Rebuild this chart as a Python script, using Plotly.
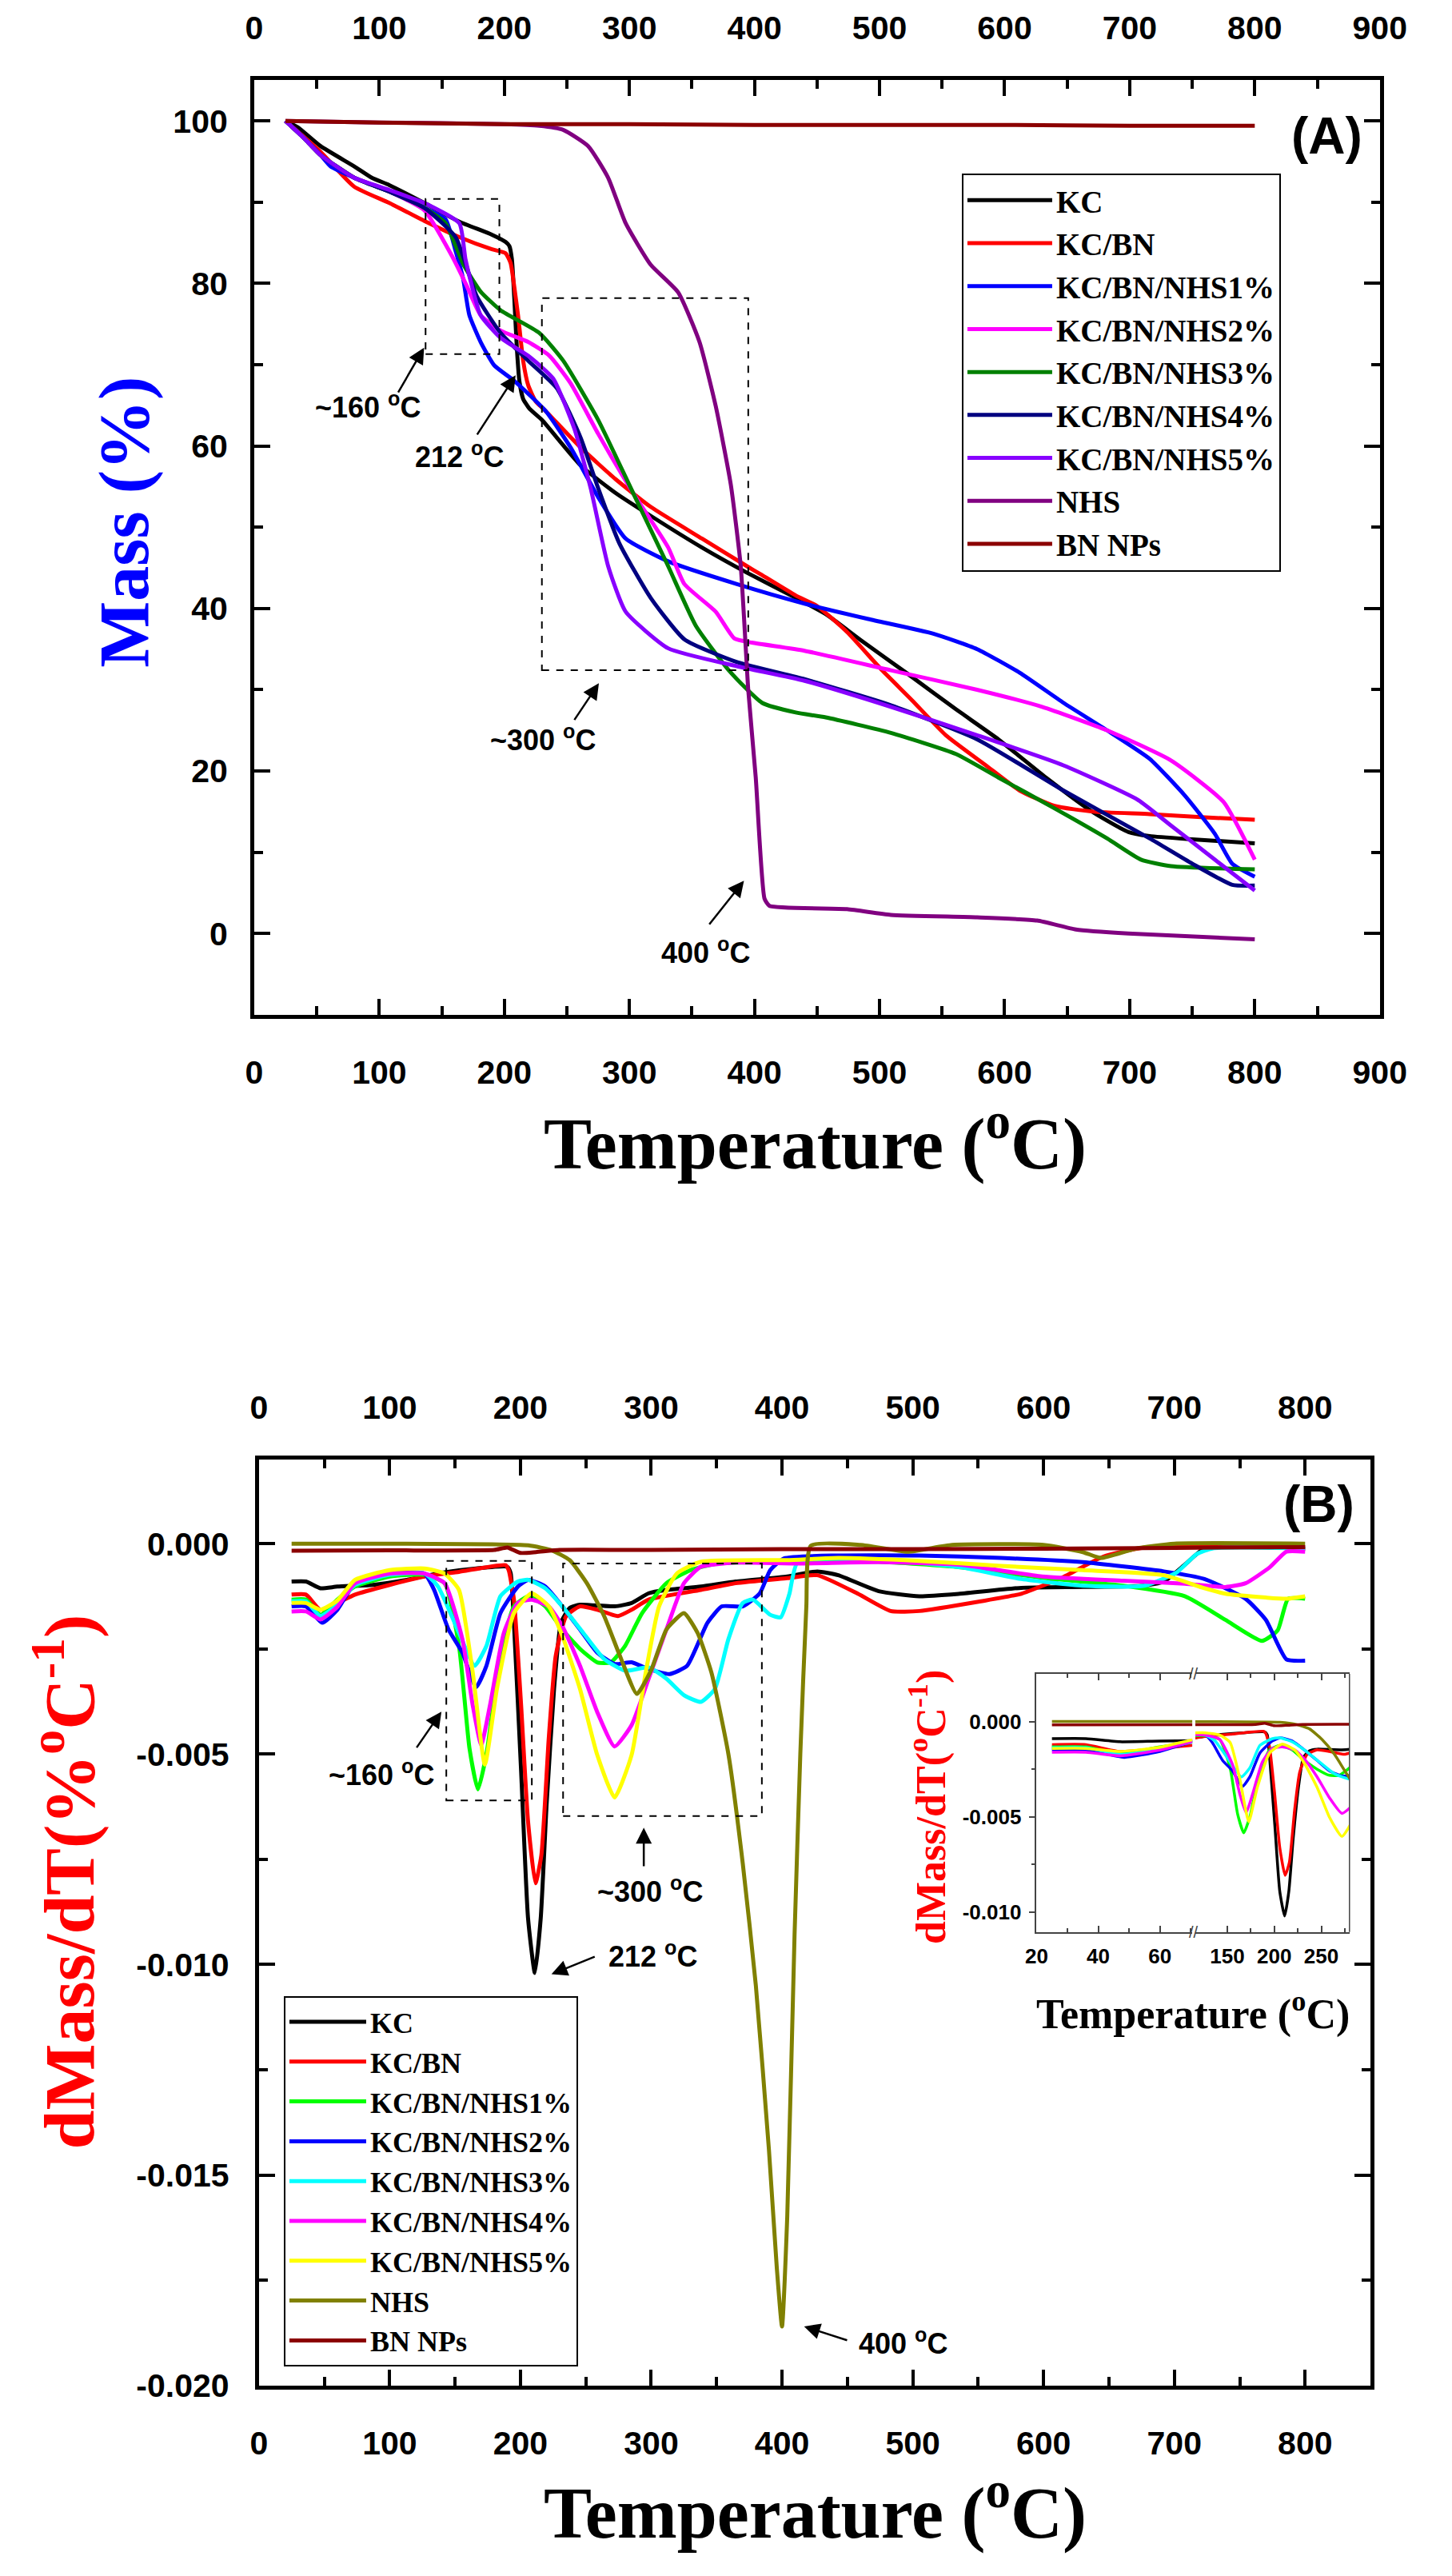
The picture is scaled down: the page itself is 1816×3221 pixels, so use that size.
import plotly.graph_objects as go

W, H = 1816, 3221

# ------------------------------------------------------------------
# DATA  -- panel (A): TGA mass (%) vs temperature (°C)
# ------------------------------------------------------------------
names = ["KC", "KC/BN", "KC/BN/NHS1%", "KC/BN/NHS2%", "KC/BN/NHS3%",
         "KC/BN/NHS4%", "KC/BN/NHS5%", "NHS", "BN NPs"]
colors_a = ["#000000", "#FF0000", "#0000FF", "#FF00FF", "#008000",
            "#000080", "#8800FF", "#800080", "#8B0000"]
colors_b = ["#000000", "#FF0000", "#00FF00", "#0000FF", "#00FFFF",
            "#FF00FF", "#FFFF00", "#808000", "#8B0000"]

a_kc_t = [25, 35, 53, 80, 94, 108, 136, 164, 190, 201, 204, 206, 208, 210, 212, 215, 220, 230,
          261, 289, 317, 358, 394, 433, 457, 485, 523, 561, 595, 633, 671, 699, 716, 750, 800]
a_kc_m = [100, 99.2, 96.9, 94.4, 93, 92.1, 89.9, 87.6, 86, 85.1, 84.6, 83, 78, 72, 68, 65.8, 64.6, 63.2,
          57.6, 54.2, 51.4, 47.5, 44.4, 41.3, 39.3, 36.1, 31.9, 27.6, 23.9, 19.2, 14.9, 12.5, 12.0, 11.6, 11.1]

a_kcbn_t = [25, 53, 80, 108, 136, 164, 190, 201, 205, 208, 211, 215, 219, 225, 233, 261, 289, 317,
            358, 394, 405, 433, 450, 474, 502, 526, 553, 585, 612, 640, 671, 716, 760, 800]
a_kcbn_m = [100, 96.2, 91.9, 89.9, 87.7, 85.7, 84.2, 83.7, 82.5, 79.5, 76, 70.5, 67.5, 65.5, 64.3, 59.8, 55.9, 52.5,
            48.6, 45.2, 44.2, 41.6, 40.3, 37.1, 32.4, 28.7, 24.4, 20.7, 17.6, 15.7, 15.0, 14.7, 14.3, 14.0]

a_n1_t = [25, 39, 53, 61, 80, 108, 136, 153, 161, 167, 172, 181, 192, 208, 233, 253, 275, 297, 331,
          386, 440, 491, 543, 578, 612, 647, 682, 716, 744, 768, 782, 800]
a_n1_m = [100, 98, 95.8, 94.4, 93, 91.3, 89.3, 87.9, 84, 80.6, 76.1, 72.8, 69.9, 68, 64.3, 59.8, 53.7, 48.6, 45.8,
          43, 40.6, 38.7, 36.9, 35, 32.1, 28.4, 25, 21.5, 17, 12.3, 8.6, 7]

a_n2_t = [25, 39, 53, 80, 108, 136, 158, 169, 181, 197, 219, 236, 253, 275, 303, 331, 344, 369,
          384, 398, 440, 509, 578, 630, 682, 733, 775, 800]
a_n2_m = [100, 98, 95.8, 93, 91.3, 89.0, 83.4, 80, 76.1, 74.2, 72.8, 71.1, 67.7, 61.5, 54.2, 47.5, 43, 39.6,
          36.3, 35.8, 34.8, 32.4, 30, 27.9, 25, 21.3, 16.2, 9.1]

a_n3_t = [25, 39, 53, 80, 108, 136, 153, 167, 181, 197, 228, 247, 275, 303, 331, 353, 380, 406,
          433, 457, 509, 561, 595, 640, 682, 709, 733, 800]
a_n3_m = [100, 98, 95.8, 93, 91.3, 89.3, 87.4, 82.4, 79, 76.7, 73.9, 70.5, 63.2, 54.2, 45.2, 37.9, 32.3, 28.4,
          27.2, 26.6, 24.7, 22.1, 19.2, 15.4, 11.7, 9.1, 8.3, 7.9]

a_n4_t = [25, 39, 53, 80, 108, 136, 161, 178, 197, 219, 242, 261, 275, 292, 317, 344, 386, 440,
          509, 578, 647, 716, 750, 782, 800]
a_n4_m = [100, 98, 95.8, 93, 91.3, 89.3, 85.7, 78.4, 73.9, 70.5, 67.1, 61, 54.8, 48, 41.3, 36.2, 33.4, 31.3,
          28.1, 23.9, 17.6, 11.7, 8.6, 6.0, 5.9]

a_n5_t = [25, 39, 53, 80, 108, 136, 164, 169, 181, 197, 219, 239, 256, 269, 283, 297, 331, 386,
          440, 509, 578, 647, 706, 733, 768, 800]
a_n5_m = [100, 98, 95.8, 93, 91.5, 89.9, 87.4, 82.9, 76.1, 73.3, 71.1, 68.3, 62.1, 54.8, 45.2, 39.6, 35.1, 32.9,
          31.1, 27.9, 24.4, 20.7, 16.5, 13.3, 9.1, 5.3]

a_nhs_t = [25, 100, 200, 228, 247, 267, 283, 297, 317, 339, 356, 369, 381, 389, 395, 401, 408, 412,
           474, 509, 578, 626, 657, 699, 800]
a_nhs_m = [100, 99.8, 99.6, 99.4, 98.9, 96.9, 93, 87.4, 82.3, 78.9, 72.8, 64.9, 55.3, 45.2, 30, 19.2, 4.3, 3.4,
           3.0, 2.3, 2.0, 1.6, 0.5, 0, -0.7]

a_bn_t = [25, 100, 200, 300, 400, 500, 600, 700, 800]
a_bn_m = [100, 99.8, 99.6, 99.6, 99.5, 99.5, 99.5, 99.4, 99.4]

# ------------------------------------------------------------------
# DATA  -- panel (B): DTG dMass/dT vs temperature (°C)
# ------------------------------------------------------------------
b_kc_t = [25, 36, 47, 60, 87, 113, 140, 166, 190, 192.5, 195, 200.5, 205.8, 211, 215.5, 220, 225.7, 231,
          237.6, 245.5, 272, 285, 298, 311.6, 338, 364.6, 404, 427, 443, 474, 505, 536, 583, 630, 677,
          692, 708, 723, 800]
b_kc_v = [-0.00090, -0.00090, -0.00106, -0.00102, -0.00098, -0.00086, -0.00069, -0.00059, -0.00055, -0.00070,
          -0.00188, -0.00540, -0.00890, -0.01020, -0.00890, -0.00620, -0.00345, -0.00188,
          -0.00153, -0.00145, -0.00149, -0.00141, -0.00118, -0.00110, -0.00102, -0.00090, -0.00078, -0.00066,
          -0.00075, -0.00113, -0.00125, -0.00119, -0.00105, -0.00103, -0.00100, -0.00090, -0.00050, -0.00012,
          -0.00012]

b_kcbn_t = [25, 36, 47, 60, 73.5, 100, 126.5, 153, 188.6, 191, 195, 200.5, 205.8, 211.5, 216, 221.7, 227,
            235, 245.5, 258.7, 274.6, 285, 298, 338, 364.6, 404, 427, 458, 483, 505, 552, 583, 614, 645.5,
            677, 800]
b_kcbn_v = [-0.00121, -0.00121, -0.00157, -0.00141, -0.00121, -0.00098, -0.00078, -0.00067, -0.00051, -0.00063,
            -0.00133, -0.00384, -0.00660, -0.00807, -0.00740, -0.00460, -0.00266, -0.00172, -0.00149, -0.00157,
            -0.00172, -0.00157, -0.00133, -0.00110, -0.00094, -0.00082, -0.00075, -0.00119, -0.00160, -0.00160,
            -0.00137, -0.00119, -0.00081, -0.00031, -0.00009, -0.00009]

b_n1_t = [25, 36, 47, 60, 73.5, 100, 126.5, 142, 153, 161, 167.5, 174, 184.7, 195, 206, 219, 232, 245.5,
          258.7, 269, 280, 293, 311.6, 330, 351, 404, 474, 536, 599, 661, 708, 739, 767, 779, 787, 800]
b_n1_v = [-0.00133, -0.00133, -0.00169, -0.00133, -0.00102, -0.00078, -0.00074, -0.00094, -0.00243, -0.00486,
          -0.00584, -0.00500, -0.00266, -0.00149, -0.00125, -0.00149, -0.00204, -0.00250, -0.00282, -0.00282,
          -0.00243, -0.00165, -0.00094, -0.00063, -0.00047, -0.00043, -0.00043, -0.00056, -0.00081, -0.00100,
          -0.00125, -0.00181, -0.00231, -0.00206, -0.00131, -0.00131]

b_n2_t = [25, 36, 48.4, 60, 73.5, 100, 126.5, 134, 145, 155.6, 166, 174, 184.7, 198, 206, 219, 232, 245.5,
          258.7, 272, 285, 298, 314, 327.5, 343, 354, 370, 383, 391, 401.6, 443, 505, 567.6, 630, 692, 723,
          754.5, 770, 785.7, 800]
b_n2_v = [-0.00149, -0.00149, -0.00188, -0.00157, -0.00094, -0.00071, -0.00071, -0.00110, -0.00204, -0.00259,
          -0.00341, -0.00290, -0.00165, -0.00102, -0.00086, -0.00102, -0.00149, -0.00204, -0.00259, -0.00286,
          -0.00282, -0.00298, -0.00310, -0.00290, -0.00188, -0.00149, -0.00149, -0.00118, -0.00063, -0.00035,
          -0.00028, -0.00028, -0.00034, -0.00044, -0.00066, -0.00084, -0.00131, -0.00181, -0.00275, -0.00278]

b_n3_t = [25, 36, 47, 60, 73.5, 100, 126.5, 137, 153, 165, 174, 184.7, 198, 206, 219, 232, 248, 264, 280,
          298, 311.6, 325, 338, 348.7, 359, 370, 377.8, 391, 399, 405.6, 412, 474, 536, 583, 630, 677,
          701.6, 717, 729.6, 800]
b_n3_v = [-0.00137, -0.00137, -0.00172, -0.00145, -0.00098, -0.00074, -0.00071, -0.00102, -0.00212, -0.00290,
          -0.00243, -0.00125, -0.00090, -0.00086, -0.00106, -0.00149, -0.00212, -0.00274, -0.00302, -0.00294,
          -0.00321, -0.00360, -0.00376, -0.00345, -0.00227, -0.00141, -0.00133, -0.00169, -0.00175, -0.00120,
          -0.00044, -0.00038, -0.00056, -0.00084, -0.00100, -0.00100, -0.00069, -0.00025, -0.00011, -0.00011]

b_n4_t = [25, 36, 47, 60, 73.5, 100, 126.5, 142, 155.6, 163.5, 170, 176.7, 187.3, 198, 208.5, 221.7, 232,
          245.5, 258.7, 272, 285, 298, 311.6, 325, 338, 364.6, 412, 474, 536, 599, 661, 708, 739, 754.5,
          773, 785.7, 800]
b_n4_v = [-0.00161, -0.00161, -0.00180, -0.00150, -0.00094, -0.00071, -0.00071, -0.00094, -0.00227, -0.00384,
          -0.00478, -0.00384, -0.00212, -0.00141, -0.00133, -0.00149, -0.00196, -0.00290, -0.00400, -0.00482,
          -0.00431, -0.00321, -0.00204, -0.00094, -0.00055, -0.00045, -0.00047, -0.00044, -0.00050, -0.00078,
          -0.00088, -0.00095, -0.00103, -0.00094, -0.00056, -0.00019, -0.00019]

b_n5_t = [25, 36, 47, 60, 73.5, 100, 126.5, 142, 153, 163.5, 172.8, 182, 195, 208.5, 221.7, 232, 245.5,
          258.7, 272, 285, 295.8, 306, 319.6, 338, 404, 443, 505, 567.6, 630, 692, 723, 739, 770, 785.7, 800]
b_n5_v = [-0.00141, -0.00141, -0.00157, -0.00135, -0.00086, -0.00063, -0.00059, -0.00071, -0.00110, -0.00306,
          -0.00525, -0.00345, -0.00165, -0.00118, -0.00149, -0.00219, -0.00345, -0.00502, -0.00603, -0.00502,
          -0.00306, -0.00149, -0.00071, -0.00043, -0.00039, -0.00034, -0.00041, -0.00053, -0.00063, -0.00075,
          -0.00106, -0.00119, -0.00128, -0.00131, -0.00125]

b_nhs_t = [25, 100, 206, 224, 237.6, 250.8, 264, 277, 289, 300, 311.6, 325, 335.4, 346, 359, 370, 380,
           390, 396, 400, 404, 409.6, 414, 418.6, 422, 460, 496, 530, 600, 630, 644, 670, 700, 800]
b_nhs_v = [0.0, 0.0, -0.00004, -0.00016, -0.00039, -0.00094, -0.00172, -0.00274, -0.00357, -0.00300, -0.00204,
           -0.00165, -0.00212, -0.00306, -0.00500, -0.00760, -0.01050, -0.01440, -0.01720, -0.01860, -0.01600,
           -0.00930, -0.00500, -0.00150, -0.00005, -0.00003, -0.00019, -0.00003, -0.00003, -0.00020, -0.00034,
           -0.00012, 0.0, 0.0]

b_bn_t = [25, 100, 180, 190, 200, 212, 230, 300, 400, 500, 600, 700, 800]
b_bn_v = [-0.00017, -0.00016, -0.00015, -0.00009, -0.00022, -0.00020, -0.00015, -0.00015, -0.00013, -0.00013,
          -0.00012, -0.00010, -0.00008]

a_series = [(a_kc_t, a_kc_m), (a_kcbn_t, a_kcbn_m), (a_n1_t, a_n1_m), (a_n2_t, a_n2_m), (a_n3_t, a_n3_m),
            (a_n4_t, a_n4_m), (a_n5_t, a_n5_m), (a_nhs_t, a_nhs_m), (a_bn_t, a_bn_m)]
b_series = [(b_kc_t, b_kc_v), (b_kcbn_t, b_kcbn_v), (b_n1_t, b_n1_v), (b_n2_t, b_n2_v), (b_n3_t, b_n3_v),
            (b_n4_t, b_n4_v), (b_n5_t, b_n5_v), (b_nhs_t, b_nhs_v), (b_bn_t, b_bn_v)]

# tick labels
a_x_ticks = [0, 100, 200, 300, 400, 500, 600, 700, 800, 900]
a_y_ticks = [0, 20, 40, 60, 80, 100]
b_x_ticks = [0, 100, 200, 300, 400, 500, 600, 700, 800]
b_y_ticks = [0.0, -0.005, -0.010, -0.015, -0.020]
b_y_text = ["0.000", "-0.005", "-0.010", "-0.015", "-0.020"]
b_y_minor = [-0.0025, -0.0075, -0.0125, -0.0175]
in_x1_ticks = [20, 40, 60]
in_x1_minor = [30, 50, 70]
in_x2_ticks = [150, 200, 250]
in_x2_minor = [175, 225, 275]
in_y_ticks = [0.0, -0.005, -0.010]
in_y_text = ["0.000", "-0.005", "-0.010"]
in_y_minor = [-0.0025, -0.0075]


# ------------------------------------------------------------------
def px(x):
    return x / W


def py(y):
    return 1 - y / H


SANS = "Liberation Sans"
SERIF = "Liberation Serif"
TICKFONT = dict(family=SANS, size=41, color="black", weight="bold")
LW = 5
SMOOTH = 0.5

fig = go.Figure()

# panel A traces
for i, (t, m) in enumerate(a_series):
    fig.add_trace(go.Scatter(
        x=t, y=m, name=names[i], mode="lines",
        line=dict(color=colors_a[i], width=LW, shape="spline", smoothing=SMOOTH),
        xaxis="x2" if i == len(a_series) - 1 else "x", yaxis="y", legend="legend"))

# panel B traces
for i, (t, v) in enumerate(b_series):
    fig.add_trace(go.Scatter(
        x=t, y=v, name=names[i], mode="lines",
        line=dict(color=colors_b[i], width=LW, shape="spline", smoothing=SMOOTH),
        xaxis="x4" if i == len(b_series) - 1 else "x3", yaxis="y2", legend="legend2"))

# inset traces (broken x-axis: two segments)
for xa in ("x5", "x6"):
    for i, (t, v) in enumerate(b_series):
        fig.add_trace(go.Scatter(
            x=t, y=v, name=names[i], mode="lines", showlegend=False,
            line=dict(color=colors_b[i], width=3.5, shape="spline", smoothing=SMOOTH),
            xaxis=xa, yaxis="y3"))

main_ax = dict(showgrid=False, zeroline=False, showline=True, linecolor="black", linewidth=LW,
               ticks="inside", tickcolor="black", tickwidth=4, ticklen=20, tickfont=TICKFONT)
minor_x = dict(ticks="inside", ticklen=11, tickwidth=4, tickcolor="black")

inset_font = dict(family=SANS, size=26, color="black", weight="bold")
inset_ax = dict(showgrid=False, zeroline=False, showline=True, linecolor="#444444", linewidth=1.5,
                tickcolor="#444444", tickwidth=1.5, tickfont=inset_font)

A_L, A_R, A_T, A_B = 304, 1750, 93, 1270
B_L, B_R, B_T, B_B = 310, 1738, 1830, 2996
I_L, I_M1, I_M2, I_R, I_T, I_B = 1309, 1509, 1513, 1711, 2100, 2425

fig.update_layout(
    width=W, height=H, margin=dict(l=0, r=0, t=0, b=0),
    paper_bgcolor="white", plot_bgcolor="white", showlegend=True,
    xaxis=dict(main_ax, domain=[px(A_L), px(A_R)], range=[0, 900], tickvals=a_x_ticks,
               minor=dict(minor_x, dtick=50, tick0=0), anchor="y", ticklabelstandoff=32),
    xaxis2=dict(main_ax, domain=[px(A_L), px(A_R)], range=[0, 900], tickvals=a_x_ticks,
                minor=dict(minor_x, dtick=50, tick0=0), anchor="y", overlaying="x", side="top",
                ticklabelstandoff=30),
    yaxis=dict(main_ax, domain=[py(A_B), py(A_T)], range=[-10, 105], tickvals=a_y_ticks,
               minor=dict(minor_x, dtick=10, tick0=0), anchor="x", mirror="ticks", ticklabelstandoff=20),
    xaxis3=dict(main_ax, domain=[px(B_L), px(B_R)], range=[0, 850], tickvals=b_x_ticks,
                minor=dict(minor_x, dtick=50, tick0=0), anchor="y2", ticklabelstandoff=32),
    xaxis4=dict(main_ax, domain=[px(B_L), px(B_R)], range=[0, 850], tickvals=b_x_ticks,
                minor=dict(minor_x, dtick=50, tick0=0), anchor="y2", overlaying="x3", side="top",
                ticklabelstandoff=30),
    yaxis2=dict(main_ax, domain=[py(B_B), py(B_T)], range=[-0.020, 0.002], tickvals=b_y_ticks,
                ticktext=b_y_text, minor=dict(minor_x, tickvals=b_y_minor), anchor="x3", mirror="ticks",
                ticklabelstandoff=24),
    xaxis5=dict(inset_ax, domain=[px(I_L), px(I_M1)], range=[20, 70.5], tickvals=in_x1_ticks,
                ticks="inside", ticklen=8, mirror="ticks",
                minor=dict(ticks="inside", ticklen=5, tickwidth=1.5, tickcolor="#444444", tickvals=in_x1_minor),
                anchor="y3", ticklabelstandoff=6),
    xaxis6=dict(inset_ax, domain=[px(I_M2), px(I_R)], range=[116, 280], tickvals=in_x2_ticks,
                ticks="inside", ticklen=8, mirror="ticks",
                minor=dict(ticks="inside", ticklen=5, tickwidth=1.5, tickcolor="#444444", tickvals=in_x2_minor),
                anchor="y3", ticklabelstandoff=6),
    yaxis3=dict(inset_ax, domain=[py(I_B), py(I_T)], range=[-0.01104, 0.0025], tickvals=in_y_ticks,
                ticktext=in_y_text, ticks="outside", ticklen=8,
                minor=dict(ticks="outside", ticklen=5, tickwidth=1.5, tickcolor="#444444", tickvals=in_y_minor),
                anchor="x5", ticklabelstandoff=4),
    legend=dict(x=px(1213), y=py(210), xanchor="left", yanchor="top", bgcolor="white",
                bordercolor="black", borderwidth=2, itemwidth=106, tracegroupgap=0,
                font=dict(family=SERIF, size=39, color="black", weight="bold")),
    legend2=dict(x=px(342), y=py(2506), xanchor="left", yanchor="top", bgcolor="white",
                 bordercolor="black", borderwidth=2, itemwidth=96, tracegroupgap=0,
                 font=dict(family=SERIF, size=36, color="black", weight="bold")),
)

shapes = [
    # panel A dashed boxes
    dict(type="rect", xref="x", yref="y", x0=137, x1=196, y0=71.3, y1=90.4,
         line=dict(color="black", width=2, dash="dash")),
    dict(type="rect", xref="x", yref="y", x0=230, x1=395, y0=32.4, y1=78.2,
         line=dict(color="black", width=2, dash="dash")),
    # panel B dashed boxes
    dict(type="rect", xref="x3", yref="y2", x0=143.3, x1=208.7, y0=-0.0061, y1=-0.00041,
         line=dict(color="black", width=2, dash="dash")),
    dict(type="rect", xref="x3", yref="y2", x0=232.6, x1=384.6, y0=-0.00647, y1=-0.00047,
         line=dict(color="black", width=2, dash="dash")),
    # inset right edge
    dict(type="line", xref="paper", yref="paper", x0=px(I_R), x1=px(I_R), y0=py(I_B), y1=py(I_T),
         line=dict(color="#444444", width=1.5)),
]

LBL = dict(family=SANS, size=36, color="black", weight="bold")
TITLE_FONT = dict(family=SERIF, size=90, color="black", weight="bold")
YTITLE_SIZE = 88


def arrow(xh, yh, xt, yt, xr, yr):
    return dict(x=xh, y=yh, ax=xt, ay=yt, xref=xr, yref=yr, axref=xr, ayref=yr, text=" ",
                showarrow=True, arrowhead=2, arrowsize=1.6, arrowwidth=2.5, arrowcolor="black",
                font=dict(size=2))


def label(x, y, text, xr, yr, font=LBL):
    return dict(x=x, y=y, xref=xr, yref=yr, text=text, showarrow=False, font=font,
                xanchor="center", yanchor="middle")


annotations = [
    # panel A
    arrow(135.8, 72.1, 114, 66.3, "x", "y"),
    label(90.8, 65.0, "~160 <sup>o</sup>C", "x", "y"),
    arrow(209, 68.7, 177, 61.1, "x", "y"),
    label(164, 58.9, "212 <sup>o</sup>C", "x", "y"),
    arrow(275.6, 30.8, 254.7, 26.0, "x", "y"),
    label(230.6, 24.0, "~300 <sup>o</sup>C", "x", "y"),
    arrow(391.6, 6.5, 362.6, 0.9, "x", "y"),
    label(360.6, -2.1, "400 <sup>o</sup>C", "x", "y"),
    dict(x=px(1682), y=py(163), xref="paper", yref="paper", text="(A)", showarrow=False,
         font=dict(family=SANS, size=64, color="black", weight="bold"), xanchor="center", yanchor="middle"),
    dict(x=px(1025), y=py(1426), xref="paper", yref="paper", text="Temperature (<sup>o</sup>C)",
         showarrow=False, font=TITLE_FONT, xanchor="center", yanchor="middle"),
    dict(x=px(137), y=py(649), xref="paper", yref="paper", text="Mass (%)", textangle=-90,
         showarrow=False, font=dict(TITLE_FONT, size=YTITLE_SIZE, color="#0000FF"),
         xanchor="center", yanchor="middle"),
    # panel B
    arrow(139.6, -0.00399, 119.4, -0.0049, "x3", "y2"),
    label(93.7, -0.00545, "~160 <sup>o</sup>C", "x3", "y2"),
    arrow(294.3, -0.00675, 294.3, -0.00772, "x3", "y2"),
    label(299, -0.00822, "~300 <sup>o</sup>C", "x3", "y2"),
    arrow(223.7, -0.01023, 258, -0.0098, "x3", "y2"),
    label(301, -0.00976, "212 <sup>o</sup>C", "x3", "y2"),
    arrow(416.9, -0.0186, 451, -0.01894, "x3", "y2"),
    label(492.8, -0.01896, "400 <sup>o</sup>C", "x3", "y2"),
    dict(x=px(1672), y=py(1886), xref="paper", yref="paper", text="(B)", showarrow=False,
         font=dict(family=SANS, size=64, color="black", weight="bold"), xanchor="center", yanchor="middle"),
    dict(x=px(1025), y=py(3151), xref="paper", yref="paper", text="Temperature (<sup>o</sup>C)",
         showarrow=False, font=TITLE_FONT, xanchor="center", yanchor="middle"),
    dict(x=px(60), y=py(2362), xref="paper", yref="paper", text="dMass/dT(%<sup>o</sup>C<sup>-1</sup>)",
         textangle=-90, showarrow=False, font=dict(TITLE_FONT, size=YTITLE_SIZE, color="#FF0000"),
         xanchor="center", yanchor="middle"),
    # inset
    dict(x=px(1510), y=py(2525), xref="paper", yref="paper", text="Temperature (<sup>o</sup>C)",
         showarrow=False, font=dict(family=SERIF, size=52, color="black", weight="bold"),
         xanchor="center", yanchor="middle"),
    dict(x=px(1170), y=py(2268), xref="paper", yref="paper", text="dMass/dT(<sup>o</sup>C<sup>-1</sup>)",
         textangle=-90, showarrow=False, font=dict(family=SERIF, size=52, color="#FF0000", weight="bold"),
         xanchor="center", yanchor="middle"),
    dict(x=px(1511), y=py(I_B), xref="paper", yref="paper", text="//", showarrow=False,
         font=dict(family=SANS, size=20, color="#444444"), xanchor="center", yanchor="middle"),
    dict(x=px(1511), y=py(I_T), xref="paper", yref="paper", text="//", showarrow=False,
         font=dict(family=SANS, size=20, color="#444444"), xanchor="center", yanchor="middle"),
]

fig.update_layout(shapes=shapes, annotations=annotations)
fig.write_html("out.html")
